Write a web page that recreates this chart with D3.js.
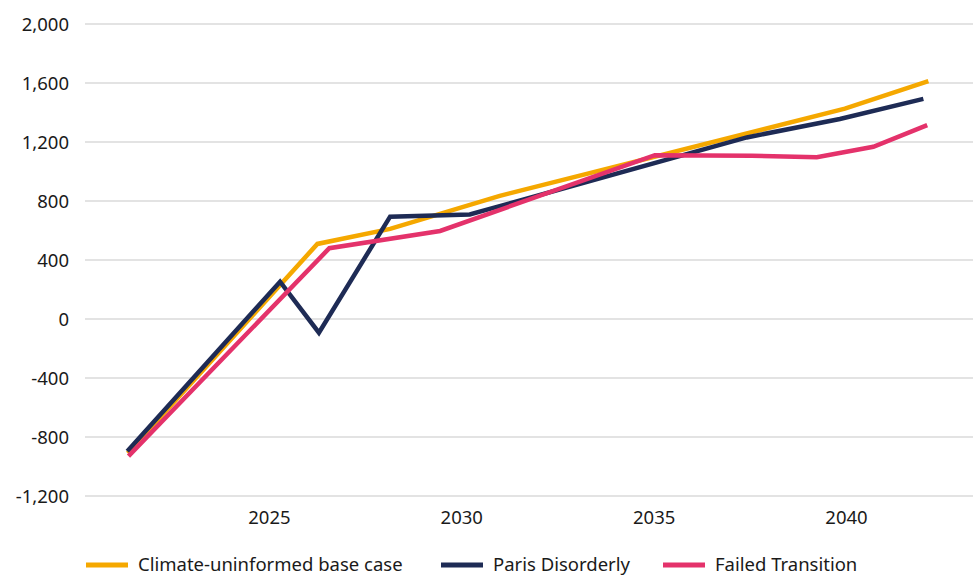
<!DOCTYPE html>
<html>
<head>
<meta charset="utf-8">
<script src="https://cdn.jsdelivr.net/npm/d3@7"></script>
<style>
  html, body { margin: 0; padding: 0; background: #fff; }
  #chart text { font-family: "Noto Sans", "Open Sans", sans-serif; fill: #1a1a1a; }
</style>
</head>
<body>
<div id="chart"></div>
<script>
(function () {
    // series (decimal year, value)
    const seriesNames = ["Climate-uninformed base case", "Paris Disorderly", "Failed Transition"];
    const seriesColors = ["#F5A800", "#1E2B55", "#E4326B"];

    const baseYears = [2021.33, 2026.26, 2028.15, 2031.0, 2039.97, 2042.14];
    const baseValues = [-910, 509, 611, 835, 1426, 1612];

    const parisYears = [2021.32, 2025.29, 2026.30, 2028.15, 2030.22, 2037.42, 2039.84, 2042.01];
    const parisValues = [-896, 253, -93, 694, 709, 1231, 1356, 1492];

    const failedYears = [2021.35, 2026.57, 2029.45, 2035.03, 2037.55, 2039.24, 2040.71, 2042.11];
    const failedValues = [-930, 480, 597, 1111, 1107, 1097, 1168, 1315];

    const xTicks = [2025, 2030, 2035, 2040];
    const yTicks = [-1200, -800, -400, 0, 400, 800, 1200, 1600, 2000];

    const width = 973;
    const height = 576;
    const margin = { top: 24, right: 0, bottom: 80, left: 85 };

    const series = [
        { name: seriesNames[0], color: seriesColors[0], pts: baseYears.map((y, i) => [y, baseValues[i]]) },
        { name: seriesNames[1], color: seriesColors[1], pts: parisYears.map((y, i) => [y, parisValues[i]]) },
        { name: seriesNames[2], color: seriesColors[2], pts: failedYears.map((y, i) => [y, failedValues[i]]) }
    ];

    const svg = d3.select("#chart")
        .append("svg")
        .attr("width", width)
        .attr("height", height)
        .attr("viewBox", `0 0 ${width} ${height}`);

    const x = d3.scaleLinear()
        .domain([2020.22, 2043.3])
        .range([margin.left, width - margin.right]);

    const y = d3.scaleLinear()
        .domain([-1200, 2000])
        .range([height - margin.bottom, margin.top]);

    // gridlines
    svg.append("g")
        .selectAll("line")
        .data(yTicks)
        .enter().append("line")
        .attr("x1", margin.left)
        .attr("x2", width - margin.right)
        .attr("y1", d => y(d))
        .attr("y2", d => y(d))
        .attr("stroke", "#e3e3e3")
        .attr("stroke-width", 2);

    // y axis labels (plain hyphen for negatives, like the source)
    const fmt = d3.format(",");
    const yAxis = svg.append("g")
        .attr("transform", `translate(${margin.left - 16},0)`)
        .call(d3.axisLeft(y).tickValues(yTicks).tickSize(0).tickPadding(0)
            .tickFormat(d => fmt(d).replace("\u2212", "-")));
    yAxis.select(".domain").remove();
    yAxis.selectAll("text").style("font-size", "18.5px").attr("dy", "0.35em");

    // x axis labels
    const xAxis = svg.append("g")
        .attr("transform", `translate(0,${height - margin.bottom + 15})`)
        .call(d3.axisBottom(x).tickValues(xTicks).tickSize(0).tickPadding(0).tickFormat(d3.format("d")));
    xAxis.select(".domain").remove();
    xAxis.selectAll("text").style("font-size", "18.5px").attr("dy", "0.71em");

    const line = d3.line()
        .x(d => x(d[0]))
        .y(d => y(d[1]));

    svg.append("g")
        .selectAll("path")
        .data(series)
        .enter().append("path")
        .attr("d", d => line(d.pts))
        .attr("fill", "none")
        .attr("stroke", d => d.color)
        .attr("stroke-width", 4.5)
        .attr("stroke-linejoin", "miter");

    // legend
    const legendX = [86, 441, 663];
    const legend = svg.append("g")
        .selectAll("g")
        .data(series)
        .enter().append("g")
        .attr("transform", (d, i) => `translate(${legendX[i]},565)`);
    legend.append("line")
        .attr("x1", 0).attr("x2", 42)
        .attr("stroke", d => d.color)
        .attr("stroke-width", 5);
    legend.append("text")
        .attr("x", 52)
        .attr("dy", "0.35em")
        .style("font-size", "18.5px")
        .text(d => d.name);
})();
</script>
</body>
</html>
